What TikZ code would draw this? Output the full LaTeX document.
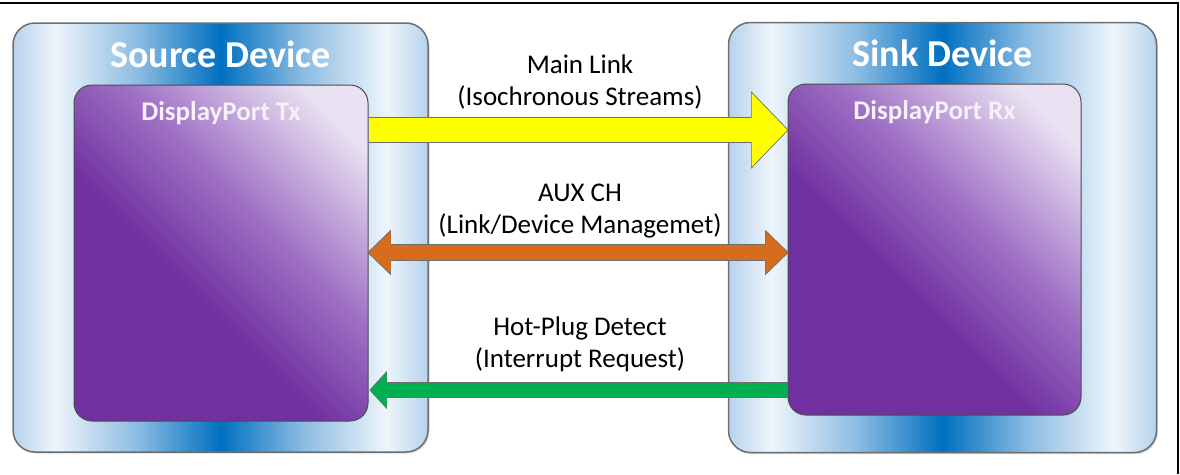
\documentclass[tikz,border=0pt]{standalone}
\usepackage{fontspec}
\setmainfont{Carlito}
\usetikzlibrary{arrows.meta,shadows,positioning}

\definecolor{devlight}{RGB}{182,210,236}
\definecolor{devwhite}{RGB}{238,245,251}
\definecolor{devmid}{RGB}{140,188,226}
\definecolor{devblue}{RGB}{0,112,192}
\definecolor{portdark}{RGB}{112,48,160}
\definecolor{portmid}{RGB}{158,112,196}
\definecolor{portlight}{RGB}{234,226,242}
\definecolor{linkyellow}{RGB}{255,255,0}
\definecolor{auxorange}{RGB}{214,108,28}
\definecolor{hpdgreen}{RGB}{0,176,80}
\definecolor{rimgray}{RGB}{110,110,110}

\pgfdeclarehorizontalshading{devshade}{100bp}{color(0bp)=(devlight); color(25bp)=(devlight); color(30bp)=(devwhite); color(40bp)=(devmid); color(50bp)=(devblue); color(60bp)=(devmid); color(70bp)=(devwhite); color(75bp)=(devlight); color(100bp)=(devlight)}
\pgfdeclarehorizontalshading{portshade}{100bp}{color(0bp)=(portdark); color(25bp)=(portdark); color(42bp)=(portdark); color(58bp)=(portmid); color(78bp)=(portlight); color(100bp)=(portlight)}

\begin{document}
\begin{tikzpicture}[x=1pt,y=-1pt]
            \tikzstyle{device}=[draw=rimgray, line width=1.5pt, inner sep=0pt, rounded corners=22pt, shading=devshade,
                drop shadow={opacity=0.3,shadow xshift=1.5pt,shadow yshift=-1.5pt}]
            \tikzstyle{port}=[draw=rimgray!70!black, line width=1pt, inner sep=0pt, rounded corners=18pt, shading=portshade, shading angle=45]
            \tikzstyle{title}=[text=white, font=\fontsize{38}{44}\selectfont\bfseries, anchor=base]
            \tikzstyle{porttitle}=[text=portlight!50!white, font=\fontsize{27}{32}\selectfont\bfseries, anchor=base]
            \tikzstyle{lbl}=[font=\fontsize{27}{32}\selectfont, align=center, anchor=base]
            \tikzstyle{mainlink}=[draw=linkyellow, line width=24pt, -{Triangle[length=36pt,width=72pt]},
                preaction={draw=rimgray, line width=25.5pt, shorten >=-1.2pt, -{Triangle[length=37.5pt,width=75pt]}}]
            \tikzstyle{auxch}=[draw=auxorange, line width=15pt, {Triangle[length=22pt,width=41pt]}-{Triangle[length=22pt,width=41pt]},
                preaction={draw=rimgray, line width=16.5pt, shorten >=-1.2pt, shorten <=-1.2pt,
                {Triangle[length=23.5pt,width=44pt]}-{Triangle[length=23.5pt,width=44pt]}}]
            \tikzstyle{hpd}=[draw=hpdgreen, line width=14pt, shorten >=2pt, -{Triangle[length=16pt,width=34pt]},
                preaction={draw=rimgray, line width=15.5pt, shorten >=0.8pt, -{Triangle[length=17.5pt,width=37pt]}}]

            \useasboundingbox (0,0) rectangle (1180,474);

            % devices
            \node[device, minimum width=415pt, minimum height=429pt] (src) at (220.5,237.5) {};
            \node[device, minimum width=428pt, minimum height=430pt, right=299pt of src] (snk) {};
            \node[port, minimum width=294pt, minimum height=336pt] (tx) at (221,253) {};
            \node[port, minimum width=293pt, minimum height=331pt] (rx) at (934.5,249.5) {};

            \node[title]        (srclbl)    at ([yshift=-45pt]src.north)   {Source Device};
            \node[title]        (snklbl)    at ([yshift=-45pt]snk.north)   {Sink Device};
            \node[porttitle]    (txlbl)     at ([yshift=-35.5pt]tx.north)  {DisplayPort Tx};
            \node[porttitle]    (rxlbl)     at ([yshift=-35.5pt]rx.north)  {DisplayPort Rx};

            % links
            \coordinate (mainy) at (0,130);
            \coordinate (auxy)  at (0,252.5);
            \coordinate (hpdy)  at (0,390);

            \draw[mainlink] (tx.east |- mainy) -- (rx.west |- mainy);
            \draw[auxch]    (tx.east |- auxy)  -- (rx.west |- auxy);
            \draw[hpd]      (rx.west |- hpdy)  -- (tx.east |- hpdy);

            \node[lbl] (mainlbl) at (580,105) {Main Link\\(Isochronous Streams)};
            \node[lbl] (auxlbl)  at (580,233) {AUX CH\\(Link/Device Managemet)};
            \node[lbl] (hpdlbl)  at (580,367) {Hot-Plug Detect\\(Interrupt Request)};

            % frame
            \draw[line width=1.2pt] (0,3) -- (1178,3) -- (1178,474);
        \end{tikzpicture}
\end{document}
